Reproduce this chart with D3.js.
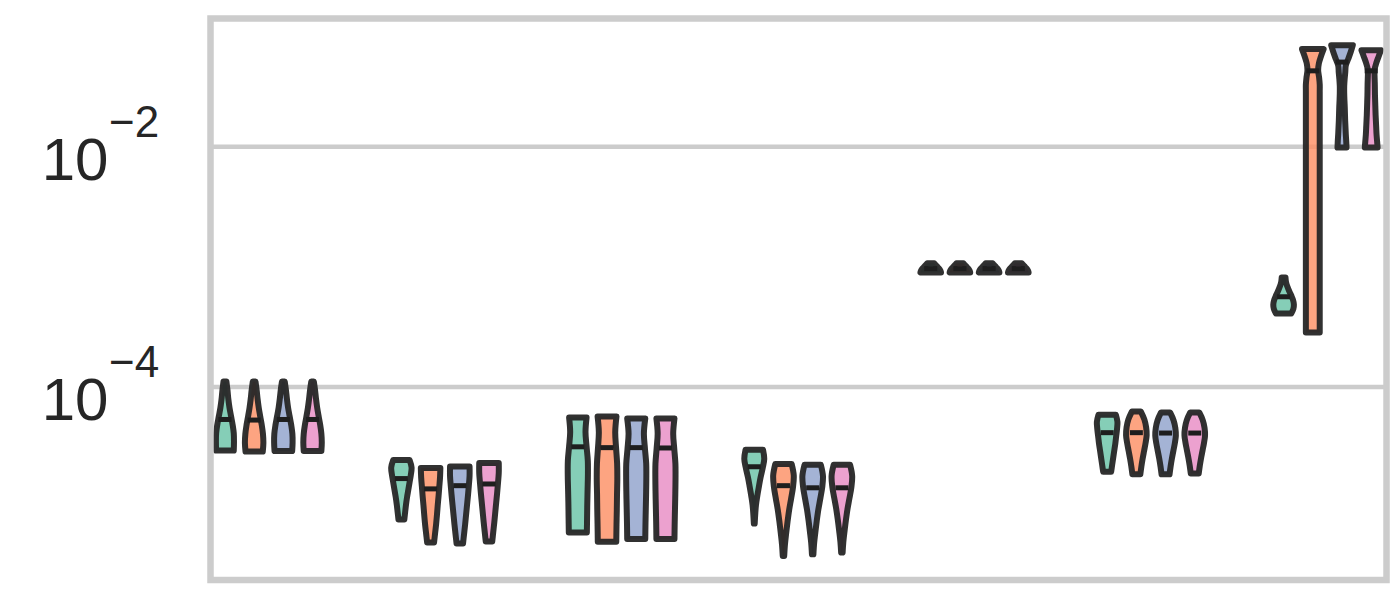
<!DOCTYPE html>
<html><head><meta charset="utf-8">
<script src="https://cdn.jsdelivr.net/npm/d3@7"></script>
<style>html,body{margin:0;padding:0;background:#fff}</style>
</head><body><svg id="c" width="1400" height="600"></svg>
<script>
const groups = ["G1", "G2", "G3", "G4", "G5", "G6", "G7"];
const hues = ["H1", "H2", "H3", "H4"];
const hueColors = ["#66c2a5", "#fc8d62", "#8da0cb", "#e78ac3"];
const yTicks = [1e-4, 1e-2];
const yTickBase = ["10", "10"];
const yTickExp = ["\u22124", "\u22122"];

// per group, per hue: lowest value, highest value, median
const lows = [
  [2.96e-5, 2.90e-5, 2.93e-5, 2.93e-5],
  [7.91e-6, 5.08e-6, 4.99e-6, 5.19e-6],
  [6.17e-6, 5.15e-6, 5.43e-6, 5.43e-6],
  [7.31e-6, 3.93e-6, 4.06e-6, 4.19e-6],
  [8.97e-4, 8.97e-4, 8.97e-4, 8.97e-4],
  [1.97e-5, 1.88e-5, 1.88e-5, 1.91e-5],
  [4.09e-4, 2.84e-4, 9.83e-3, 9.83e-3]
];
const highs = [
  [1.11e-4, 1.11e-4, 1.11e-4, 1.11e-4],
  [2.47e-5, 2.12e-5, 2.18e-5, 2.33e-5],
  [5.57e-5, 5.69e-5, 5.47e-5, 5.47e-5],
  [3.01e-5, 2.29e-5, 2.25e-5, 2.25e-5],
  [1.072e-3, 1.072e-3, 1.072e-3, 1.072e-3],
  [5.88e-5, 6.25e-5, 6.14e-5, 6.14e-5],
  [8.15e-4, 0.0649, 0.0700, 0.0636]
];
const medians = [
  [5.37e-5, 5.31e-5, 5.37e-5, 5.37e-5],
  [1.73e-5, 1.42e-5, 1.51e-5, 1.56e-5],
  [3.18e-5, 3.13e-5, 3.13e-5, 3.11e-5],
  [2.17e-5, 1.51e-5, 1.45e-5, 1.45e-5],
  [9.68e-4, 9.68e-4, 9.68e-4, 9.68e-4],
  [4.17e-5, 4.17e-5, 4.14e-5, 4.14e-5],
  [5.64e-4, 0.0428, 0.0506, 0.0428]
];
// relative density, evenly spaced (log) from low to high
const densities = [
  [
    [0.84, 0.86, 0.84, 0.73, 0.58, 0.43, 0.32, 0.24, 0.14],
    [0.82, 0.88, 0.84, 0.73, 0.58, 0.44, 0.33, 0.24, 0.13],
    [0.84, 0.88, 0.86, 0.75, 0.6, 0.45, 0.34, 0.25, 0.13],
    [0.84, 0.88, 0.84, 0.73, 0.58, 0.44, 0.33, 0.24, 0.12]
  ],
  [
    [0.28, 0.36, 0.44, 0.54, 0.66, 0.78, 0.9, 0.97, 0.78],
    [0.33, 0.43, 0.53, 0.61, 0.68, 0.76, 0.83, 0.9, 0.93],
    [0.31, 0.41, 0.51, 0.6, 0.69, 0.78, 0.86, 0.93, 0.93],
    [0.31, 0.41, 0.51, 0.6, 0.69, 0.78, 0.86, 0.93, 0.93]
  ],
  [
    [0.86, 0.88, 0.9, 0.93, 0.96, 0.95, 0.83, 0.73, 0.83],
    [0.88, 0.9, 0.93, 0.95, 0.98, 0.96, 0.86, 0.78, 0.9],
    [0.86, 0.88, 0.91, 0.94, 0.96, 0.95, 0.83, 0.73, 0.86],
    [0.86, 0.88, 0.91, 0.94, 0.96, 0.95, 0.84, 0.74, 0.86]
  ],
  [
    [0.04, 0.09, 0.16, 0.29, 0.44, 0.6, 0.8, 0.95, 0.83],
    [0.07, 0.14, 0.26, 0.39, 0.54, 0.73, 0.91, 0.98, 0.78],
    [0.07, 0.14, 0.26, 0.39, 0.54, 0.73, 0.91, 0.98, 0.78],
    [0.07, 0.14, 0.26, 0.39, 0.54, 0.73, 0.91, 0.98, 0.78]
  ],
  [
    [0.98, 0.95, 0.9, 0.83, 0.74, 0.64, 0.53, 0.43, 0.33],
    [0.98, 0.95, 0.9, 0.83, 0.74, 0.64, 0.53, 0.43, 0.33],
    [0.98, 0.95, 0.9, 0.83, 0.74, 0.64, 0.53, 0.43, 0.33],
    [0.98, 0.95, 0.9, 0.83, 0.74, 0.64, 0.53, 0.43, 0.33]
  ],
  [
    [0.38, 0.48, 0.58, 0.68, 0.78, 0.86, 0.94, 0.98, 0.83],
    [0.38, 0.48, 0.6, 0.74, 0.88, 0.98, 0.93, 0.76, 0.43],
    [0.38, 0.48, 0.6, 0.74, 0.88, 0.98, 0.93, 0.76, 0.43],
    [0.38, 0.48, 0.6, 0.74, 0.88, 0.98, 0.93, 0.76, 0.43]
  ],
  [
    [0.73, 0.93, 0.98, 0.9, 0.73, 0.53, 0.36, 0.23, 0.18],
    [0.66, 0.66, 0.66, 0.66, 0.66, 0.66, 0.66, 0.66, 0.66, 0.66,
     0.66, 0.66, 0.66, 0.66, 0.66, 0.66, 0.66, 0.66, 0.66, 0.66,
     0.66, 0.66, 0.66, 0.66, 0.66, 0.66, 0.66, 0.66, 0.66, 0.66,
     0.66, 0.66, 0.66, 0.66, 0.66, 0.66, 0.6, 0.51, 0.58, 0.78, 1.03],
    [0.43, 0.4, 0.36, 0.33, 0.3, 0.28, 0.26, 0.23, 0.21, 0.21, 0.25, 0.31, 0.36, 0.6, 0.83, 1.03],
    [0.61, 0.56, 0.51, 0.48, 0.45, 0.42, 0.4, 0.38, 0.36, 0.35, 0.34, 0.32, 0.32, 0.48, 0.7, 0.93]
  ]
];

const svg = d3.select("#c");
const L = 210.5, R = 1386.5, T = 18.5, B = 580;
const y = d3.scaleLog().domain([Math.pow(10, -5.606), Math.pow(10, -0.933)]).range([B, T]);
const x = d3.scaleLinear().domain([0, groups.length - 1]).range([268.75, 1327.4]);
const xh = d3.scaleBand().domain(hues).range([-58.4, 58.4]);
const W = 10.5;

// grid
svg.append("g").selectAll("line").data(yTicks).join("line")
  .attr("x1", L).attr("x2", R)
  .attr("y1", d => y(d)).attr("y2", d => y(d))
  .attr("stroke", "#cccccc").attr("stroke-width", 4.5);

// violins
const vg = svg.append("g");
groups.forEach((g, gi) => {
  hues.forEach((h, hi) => {
    const lo = lows[gi][hi], hv = highs[gi][hi], dens = densities[gi][hi];
    const n = dens.length;
    const a = Math.log10(lo), b = Math.log10(hv);
    const pts = dens.map((d, k) => ({ v: Math.pow(10, a + (b - a) * k / (n - 1)), d }));
    const cx = x(gi) + xh(h) + xh.bandwidth() / 2;
    const area = d3.area()
      .curve(d3.curveCatmullRom.alpha(0.5))
      .y(p => y(p.v))
      .x0(p => cx - W * p.d)
      .x1(p => cx + W * p.d);
    vg.append("path")
      .attr("d", area(pts))
      .attr("fill", hueColors[hi]).attr("fill-opacity", 0.8)
      .attr("stroke", "#262626").attr("stroke-opacity", 0.95)
      .attr("stroke-width", 6).attr("stroke-linejoin", "round");
    vg.append("rect")
      .attr("x", cx - 6.5).attr("y", y(medians[gi][hi]) - 2.5)
      .attr("width", 13).attr("height", 5)
      .attr("fill", "#1e1e1e");
  });
});

// frame
svg.append("rect").attr("x", L).attr("y", T).attr("width", R - L).attr("height", B - T)
  .attr("fill", "none").attr("stroke", "#cccccc").attr("stroke-width", 6.5);

// tick labels
const tl = svg.append("g").attr("font-family", "Liberation Sans, Arial, sans-serif").attr("fill", "#262626");
tl.selectAll("text.base").data(yTicks).join("text").attr("class", "base")
  .attr("x", 108.5).attr("y", d => y(d) + 32.8)
  .attr("text-anchor", "end").attr("font-size", 60)
  .text((d, i) => yTickBase[i]);
tl.selectAll("text.exp").data(yTicks).join("text").attr("class", "exp")
  .attr("x", 109).attr("y", d => y(d) - 10)
  .attr("text-anchor", "start").attr("font-size", 44)
  .text((d, i) => yTickExp[i]);
</script>
</body></html>
